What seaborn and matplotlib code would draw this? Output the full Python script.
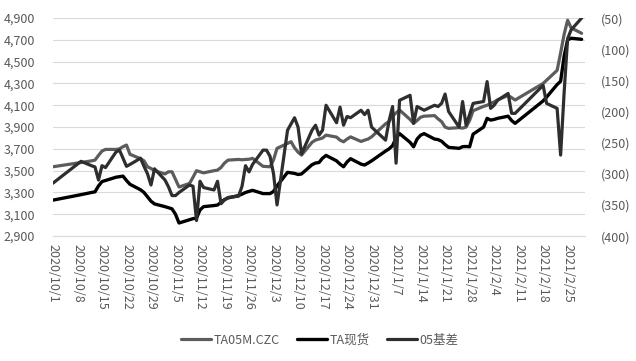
import matplotlib
matplotlib.use('Agg')
import matplotlib.pyplot as plt
import matplotlib.ticker as mticker
import seaborn as sns
import pandas as pd

# trading days shown in the chart
dates = [
    '2020-10-01', '2020-10-09',
    '2020-10-12', '2020-10-13', '2020-10-14', '2020-10-15', '2020-10-16',
    '2020-10-19', '2020-10-20', '2020-10-21', '2020-10-22', '2020-10-23',
    '2020-10-26', '2020-10-27', '2020-10-28', '2020-10-29', '2020-10-30',
    '2020-11-02', '2020-11-03', '2020-11-04', '2020-11-05', '2020-11-06',
    '2020-11-09', '2020-11-10', '2020-11-11', '2020-11-12', '2020-11-13',
    '2020-11-16', '2020-11-17', '2020-11-18', '2020-11-19', '2020-11-20',
    '2020-11-23', '2020-11-24', '2020-11-25', '2020-11-26', '2020-11-27',
    '2020-11-30', '2020-12-01', '2020-12-02', '2020-12-03', '2020-12-04',
    '2020-12-07', '2020-12-08', '2020-12-09', '2020-12-10', '2020-12-11',
    '2020-12-14', '2020-12-15', '2020-12-16', '2020-12-17', '2020-12-18',
    '2020-12-21', '2020-12-22', '2020-12-23', '2020-12-24', '2020-12-25',
    '2020-12-28', '2020-12-29', '2020-12-30', '2020-12-31',
    '2021-01-04', '2021-01-05', '2021-01-06', '2021-01-07', '2021-01-08',
    '2021-01-11', '2021-01-12', '2021-01-13', '2021-01-14', '2021-01-15',
    '2021-01-18', '2021-01-19', '2021-01-20', '2021-01-21', '2021-01-22',
    '2021-01-25', '2021-01-26', '2021-01-27', '2021-01-28', '2021-01-29',
    '2021-02-01', '2021-02-02', '2021-02-03', '2021-02-04', '2021-02-05',
    '2021-02-08', '2021-02-09', '2021-02-10',
    '2021-02-18', '2021-02-19',
    '2021-02-22', '2021-02-23', '2021-02-24', '2021-02-25', '2021-02-26',
    '2021-03-01',
]

ta05m = [
    3536, 3575,
    3590, 3597, 3640, 3680, 3695,
    3695, 3700, 3720, 3735, 3650,
    3610, 3590, 3536, 3520, 3500,
    3470, 3490, 3490, 3420, 3350,
    3383, 3440, 3500, 3490, 3480,
    3500, 3505, 3530, 3570, 3597,
    3603, 3600, 3603, 3605, 3613,
    3540, 3538, 3536, 3600, 3705,
    3750, 3766, 3710, 3670, 3643,
    3760, 3781, 3790, 3800, 3826,
    3808, 3780, 3765, 3790, 3810,
    3768, 3780, 3790, 3810,
    3930, 3950, 4000, 4030, 4056,
    3970, 3934, 3960, 3990, 4000,
    4005, 3975, 3950, 3900, 3888,
    3895, 3890, 3900, 3960, 4050,
    4090, 4100, 4117, 4130, 4150,
    4190, 4170, 4148,
    4300, 4330,
    4420, 4580, 4750, 4880, 4810,
    4760,
]

spot = [
    3230, 3280,
    3300, 3306, 3360, 3400, 3410,
    3440, 3445, 3450, 3410, 3375,
    3325, 3300, 3260, 3220, 3195,
    3170, 3160, 3150, 3100, 3020,
    3050, 3060, 3065, 3140, 3170,
    3180, 3185, 3210, 3235, 3250,
    3272, 3285, 3300, 3310, 3320,
    3290, 3290, 3290, 3310, 3360,
    3485, 3480, 3475, 3465, 3470,
    3555, 3570, 3575, 3615, 3640,
    3590, 3560, 3536, 3580, 3610,
    3560, 3552, 3570, 3590,
    3680, 3700, 3730, 3800, 3840,
    3760, 3719, 3790, 3825, 3840,
    3790, 3785, 3770, 3740, 3714,
    3705, 3720, 3722, 3719, 3835,
    3900, 3980, 3964, 3970, 3980,
    4000, 3960, 3934,
    4140, 4175,
    4290, 4320, 4550, 4700, 4715,
    4705,
]

basis = [
    -315, -280,
    -287, -289, -310, -287, -290,
    -265, -262, -275, -288, -285,
    -275, -288, -300, -318, -292,
    -310, -321, -335, -335, -330,
    -318, -320, -375, -312, -322,
    -326, -312, -348, -342, -338,
    -336, -320, -287, -297, -285,
    -262, -262, -272, -300, -350,
    -230, -220, -210, -225, -268,
    -230, -222, -238, -230, -190,
    -218, -193, -222, -208, -210,
    -198, -205, -198, -225,
    -246, -215, -192, -283, -182,
    -174, -219, -192, -195, -198,
    -190, -192, -187, -172, -200,
    -225, -184, -222, -205, -187,
    -184, -152, -195, -190, -182,
    -171, -203, -203,
    -158, -187,
    -195, -270, -170, -83, -69,
    -50,
]

sns.set_style('white')
plt.rcParams['font.family'] = ['Noto Sans CJK SC', 'DejaVu Sans']

df = pd.DataFrame({
    'date': pd.to_datetime(dates),
    'TA05M.CZC': ta05m,
    'TA现货': spot,
    '05基差': basis,
})

fig, ax = plt.subplots(figsize=(6.36, 3.61), dpi=100)
fig.subplots_adjust(left=0.0833, right=0.92, top=0.95, bottom=0.346)
ax2 = ax.twinx()

sns.lineplot(data=df, x='date', y='TA05M.CZC', ax=ax, color='#5c5c5c', lw=2.3, label='TA05M.CZC', legend=False)
sns.lineplot(data=df, x='date', y='TA现货', ax=ax, color='#000000', lw=2.4, label='TA现货', legend=False)
sns.lineplot(data=df, x='date', y='05基差', ax=ax2, color='#2e2e2e', lw=2.3, label='05基差', legend=False)

# left axis
ax.set_ylim(2900, 4900)
ax.set_yticks(range(2900, 5000, 200))
ax.yaxis.set_major_formatter(mticker.FuncFormatter(lambda v, p: f'{int(v):,}'))
ax.grid(axis='y', color='#d9d9d9', lw=0.8)
ax.set_axisbelow(True)

# right axis
ax2.set_ylim(-400, -50)
ax2.set_yticks(range(-400, 0, 50))
ax2.yaxis.set_major_formatter(mticker.FuncFormatter(lambda v, p: f'({abs(int(v))})'))

# x axis
ticks = pd.date_range('2020-10-01', '2021-02-25', freq='7D')
ax.set_xlim(pd.Timestamp('2020-10-01'), pd.Timestamp('2021-03-02'))
ax.set_xticks(ticks)
ax.set_xticklabels([f'{d.year}/{d.month}/{d.day}' for d in ticks], rotation=-90, va='top', ha='center')

for a in (ax, ax2):
    a.set_xlabel('')
    a.set_ylabel('')
    for s in ('top', 'left', 'right'):
        a.spines[s].set_visible(False)
    a.spines['bottom'].set_visible(False)
ax.spines['bottom'].set_visible(True)
ax.spines['bottom'].set_color('#d9d9d9')

ax.tick_params(axis='x', length=4, color='#bfbfbf', labelsize=9, labelcolor='#595959', pad=2)
ax.tick_params(axis='y', length=0, labelsize=9, labelcolor='#595959', pad=13)
ax2.tick_params(axis='y', length=0, labelsize=9, labelcolor='#595959', pad=11)

h1, l1 = ax.get_legend_handles_labels()
h2, l2 = ax2.get_legend_handles_labels()
fig.legend(h1 + h2, l1 + l2, loc='center', bbox_to_anchor=(0.503, 0.058), ncol=3,
           frameon=False, fontsize=9, handlelength=2.4, handletextpad=0.2,
           columnspacing=1.4, labelcolor='#595959')

fig.savefig('out.png', dpi=100)
